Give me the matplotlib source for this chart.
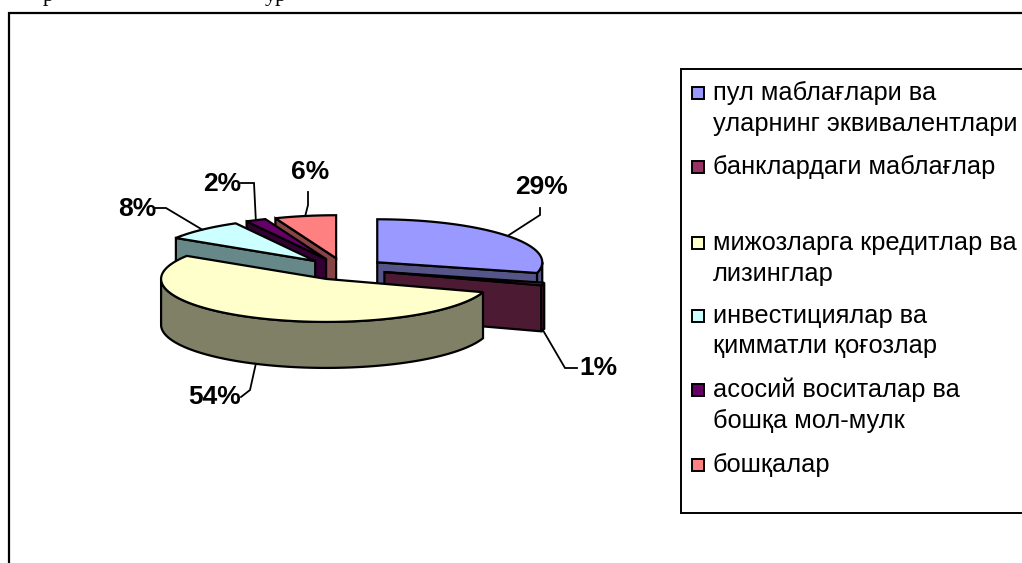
import numpy as np
import matplotlib
matplotlib.use("Agg")
import matplotlib.pyplot as plt
from matplotlib.patches import Polygon, Rectangle

categories = ["пул маблағлари ва\nуларнинг эквивалентлари",
              "банклардаги маблағлар",
              "мижозларга кредитлар ва\nлизинглар",
              "инвестициялар ва\nқимматли қоғозлар",
              "асосий воситалар ва\nбошқа мол-мулк",
              "бошқалар"]
values = [29, 1, 54, 8, 2, 6]
colors = ["#9999FF", "#993366", "#FFFFCC", "#CCFFFF", "#660066", "#FF8080"]
side_colors = ["#555588", "#4D1A33", "#808066", "#668888", "#330033", "#884444"]

# layout, in pixels
CX, CY, A, B, H, EXPLODE = 344, 269, 165, 43, 46, 0.255
draw_order = [5, 4, 3, 0, 1, 2]
label_xy = [(541, 187), (598, 368), (215, 397), (137, 209), (222, 184), (310, 172)]
elbows = [[(540, 215), (540, 208)], [(565, 368), (577, 368)], [(250, 390), (241, 397)],
          [(166, 208), (155, 208)], [(254, 183), (241, 183)], [(308, 205), (308, 192)]]
legend_y = [93, 167, 243, 316, 390, 465]
LW = 1.6

fig = plt.figure(figsize=(10.22, 5.63), dpi=100)
ax = fig.add_axes([0, 0, 1, 1])
ax.set_xlim(0, 1022)
ax.set_ylim(563, 0)
ax.axis("off")

total = sum(values)
edges = np.concatenate([[0], np.cumsum(values)]) / total * 360


def pt(ox, oy, deg):
    r = np.radians(deg)
    return ox + A * np.sin(r), oy - B * np.cos(r)


def apex(i):
    mid = np.radians((edges[i] + edges[i + 1]) / 2)
    return CX + EXPLODE * A * np.sin(mid), CY - EXPLODE * B * np.cos(mid)


def poly(points, fc, z):
    ax.add_patch(Polygon(points, closed=True, fc=fc, ec="black", lw=LW, joinstyle="miter", zorder=z))


z = 2
for i in draw_order:
    t1, t2 = edges[i], edges[i + 1]
    ox, oy = apex(i)
    for t, visible in ((t1, np.sin(np.radians(t1)) < -1e-6), (t2, np.sin(np.radians(t2)) > 1e-6)):
        if visible:
            ex, ey = pt(ox, oy, t)
            poly([(ox, oy), (ex, ey), (ex, ey + H), (ox, oy + H)], side_colors[i], z)
            z += 1
    lo, hi = max(t1, 90), min(t2, 270)
    if hi > lo:
        th = np.linspace(lo, hi, 120)
        xs, ys = pt(ox, oy, th)
        poly(np.r_[np.c_[xs, ys], np.c_[xs[::-1], ys[::-1] + H]], side_colors[i], z)
        z += 1
    th = np.linspace(t1, t2, 160)
    xs, ys = pt(ox, oy, th)
    poly(np.r_[[(ox, oy)], np.c_[xs, ys]], colors[i], z)
    z += 1

# data labels with leader lines
for i, v in enumerate(values):
    ox, oy = apex(i)
    mid = (edges[i] + edges[i + 1]) / 2
    sx, sy = pt(ox, oy, mid)
    if np.cos(np.radians(mid)) < 0:
        sy += H
    path = [(sx, sy)] + elbows[i]
    ax.plot(*zip(*path), color="black", lw=1.3, zorder=30, solid_joinstyle="miter")
    ax.text(*label_xy[i], f"{v}%", family="Liberation Sans", weight="bold", fontsize=19,
            ha="center", va="center", zorder=31)

# chart frame
ax.plot([9, 9, 1030], [570, 13, 13], color="black", lw=1.6, zorder=1, solid_joinstyle="miter")

# legend
ax.add_patch(Rectangle((681, 69), 400, 444, fc="white", ec="black", lw=1.4, zorder=1))
for c, cat, y in zip(colors, categories, legend_y):
    ax.add_patch(Rectangle((691.5, y - 6), 12, 12, fc=c, ec="black", lw=1.4, zorder=3))
    lines = cat.split("\n")
    for k, line in enumerate(lines):
        ax.text(713, y + k * 30.5, line, family="Liberation Sans", fontsize=18.3,
                ha="left", va="center", zorder=3)

# cropped text line above the chart
ax.text(48, -3, "р", family="Liberation Serif", fontsize=16, ha="center", va="center")
ax.text(276, -3, "ур", family="Liberation Serif", fontsize=16, ha="center", va="center")

fig.savefig("out.png", dpi=100)
